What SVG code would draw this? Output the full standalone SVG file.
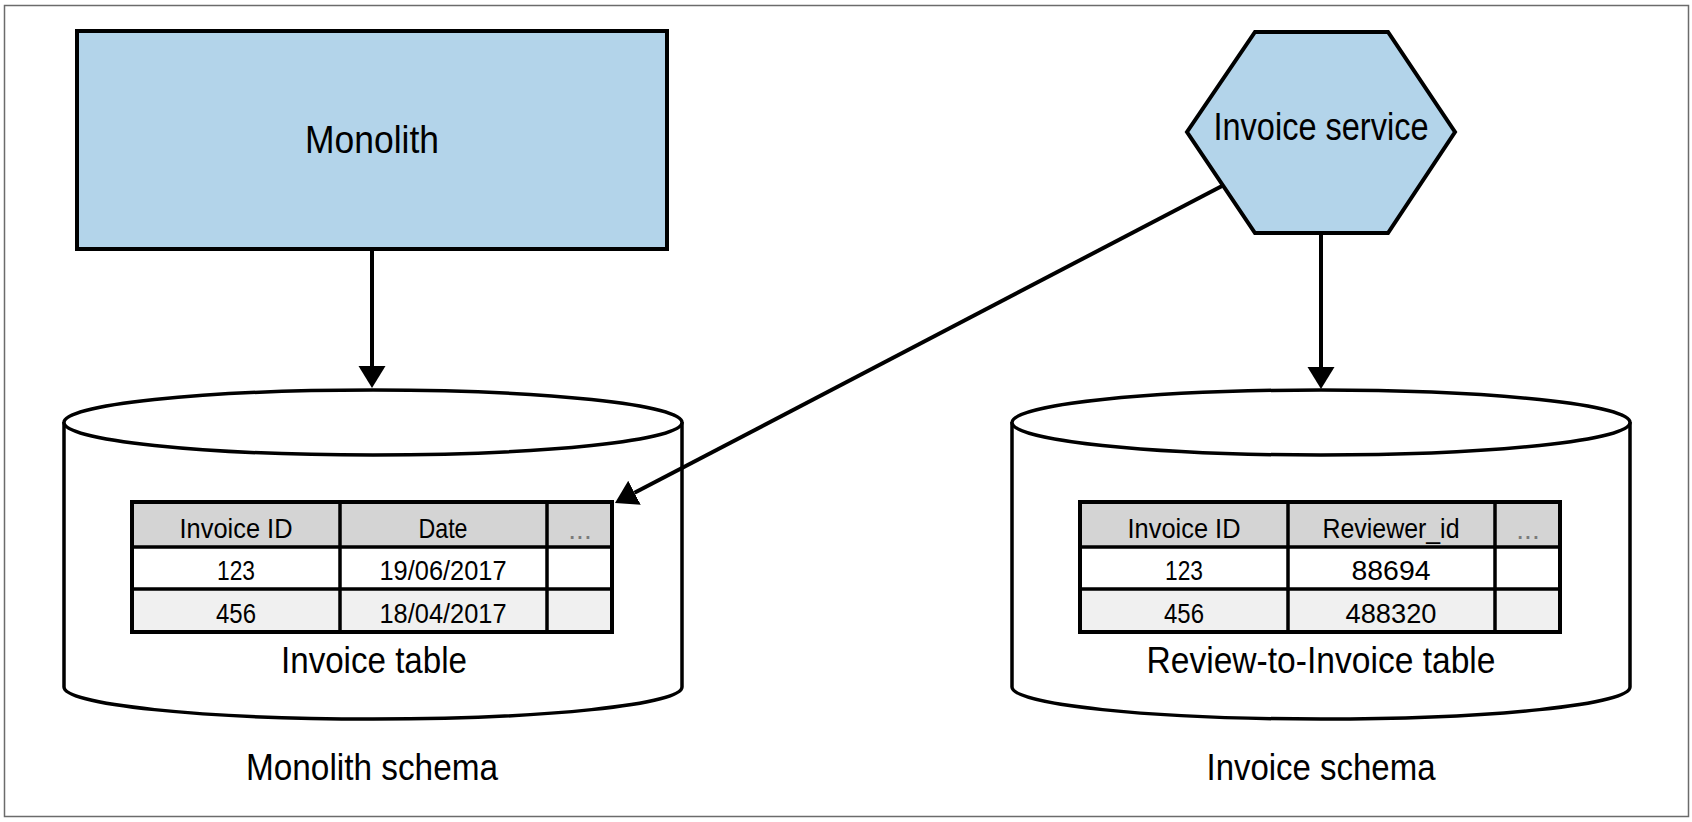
<svg xmlns="http://www.w3.org/2000/svg" width="1692" height="822" viewBox="0 0 1692 822">
<defs>
<style>
.frame{fill:#ffffff;stroke:#6b6b6b;stroke-width:1.5}
.svc{fill:#b3d4ea;stroke:#000;stroke-width:4;stroke-linejoin:miter}
.cyl{fill:#ffffff;stroke:#000;stroke-width:3.5}
.edge{fill:none;stroke:#000;stroke-width:4}
.hdr{fill:#d4d4d4}
.r1{fill:#ffffff}
.r2{fill:#f0f0f0}
.grid{fill:none;stroke:#000;stroke-width:4}
.gl{stroke:#000;stroke-width:3.5}
text{font-family:"Liberation Sans",Arial,sans-serif;fill:#000;text-anchor:middle}
.big{font-size:38px}
.lbl{font-size:37px}
.cell{font-size:28px}
.dots{fill:#7a7a7a}
</style>
<marker id="ah" markerUnits="userSpaceOnUse" markerWidth="24" markerHeight="28" refX="0" refY="13.5" orient="auto" viewBox="0 0 24 28">
<path d="M0,0 L22,13.5 L0,27 Z" fill="#000"/>
</marker>
</defs>

<rect class="frame" x="4.5" y="5.5" width="1684" height="811"/>

<g id="monolith">
<rect class="svc" x="77" y="31" width="590" height="218"/>
<text class="big" x="372" y="153" textLength="134" lengthAdjust="spacingAndGlyphs">Monolith</text>
</g>

<g id="invoice-service">
<polygon class="svc" points="1255,32 1388,32 1455,132 1388,233 1255,233 1187,132"/>
<text class="big" x="1321" y="140" textLength="215" lengthAdjust="spacingAndGlyphs">Invoice service</text>
</g>

<g id="monolith-schema">
<path class="cyl" d="M64,422 L64,687 A309,32 0 0 0 682,687 L682,422"/>
<ellipse class="cyl" cx="373" cy="422.5" rx="309" ry="32.5"/>
<g id="invoice-table">
<rect class="hdr" x="132" y="502" width="480" height="45"/>
<rect class="r1" x="132" y="547" width="480" height="42"/>
<rect class="r2" x="132" y="589" width="480" height="43"/>
<line class="gl" x1="132" y1="547" x2="612" y2="547"/>
<line class="gl" x1="132" y1="589" x2="612" y2="589"/>
<line class="gl" x1="340" y1="502" x2="340" y2="632"/>
<line class="gl" x1="547" y1="502" x2="547" y2="632"/>
<rect class="grid" x="132" y="502" width="480" height="130"/>
<text class="cell" x="236" y="538" textLength="113" lengthAdjust="spacingAndGlyphs">Invoice ID</text>
<text class="cell" x="443" y="538" textLength="49" lengthAdjust="spacingAndGlyphs">Date</text>
<text class="cell dots" x="580" y="539">...</text>
<text class="cell" x="236" y="580" textLength="38" lengthAdjust="spacingAndGlyphs">123</text>
<text class="cell" x="443" y="580" textLength="127" lengthAdjust="spacingAndGlyphs">19/06/2017</text>
<text class="cell" x="236" y="623" textLength="40" lengthAdjust="spacingAndGlyphs">456</text>
<text class="cell" x="443" y="623" textLength="127" lengthAdjust="spacingAndGlyphs">18/04/2017</text>
<text class="lbl" x="374" y="673" textLength="186" lengthAdjust="spacingAndGlyphs">Invoice table</text>
</g>
<text class="lbl" x="372" y="780" textLength="252" lengthAdjust="spacingAndGlyphs">Monolith schema</text>
</g>

<g id="invoice-schema">
<path class="cyl" d="M1012,422 L1012,687 A309,32 0 0 0 1630,687 L1630,422"/>
<ellipse class="cyl" cx="1321" cy="422.5" rx="309" ry="32.5"/>
<g id="review-to-invoice-table">
<rect class="hdr" x="1080" y="502" width="480" height="45"/>
<rect class="r1" x="1080" y="547" width="480" height="42"/>
<rect class="r2" x="1080" y="589" width="480" height="43"/>
<line class="gl" x1="1080" y1="547" x2="1560" y2="547"/>
<line class="gl" x1="1080" y1="589" x2="1560" y2="589"/>
<line class="gl" x1="1288" y1="502" x2="1288" y2="632"/>
<line class="gl" x1="1495" y1="502" x2="1495" y2="632"/>
<rect class="grid" x="1080" y="502" width="480" height="130"/>
<text class="cell" x="1184" y="538" textLength="113" lengthAdjust="spacingAndGlyphs">Invoice ID</text>
<text class="cell" x="1391" y="538" textLength="137" lengthAdjust="spacingAndGlyphs">Reviewer_id</text>
<text class="cell dots" x="1528" y="539">...</text>
<text class="cell" x="1184" y="580" textLength="38" lengthAdjust="spacingAndGlyphs">123</text>
<text class="cell" x="1391" y="580" textLength="79" lengthAdjust="spacingAndGlyphs">88694</text>
<text class="cell" x="1184" y="623" textLength="40" lengthAdjust="spacingAndGlyphs">456</text>
<text class="cell" x="1391" y="623" textLength="91" lengthAdjust="spacingAndGlyphs">488320</text>
<text class="lbl" x="1321" y="673" textLength="349" lengthAdjust="spacingAndGlyphs">Review-to-Invoice table</text>
</g>
<text class="lbl" x="1321" y="780" textLength="229" lengthAdjust="spacingAndGlyphs">Invoice schema</text>
</g>

<g id="connectors">
<line class="edge" x1="372" y1="251" x2="372" y2="366" marker-end="url(#ah)"/>
<line class="edge" x1="1321" y1="235" x2="1321" y2="367" marker-end="url(#ah)"/>
<line class="edge" x1="1222" y1="186" x2="634.5" y2="492.8" marker-end="url(#ah)"/>
</g>
</svg>
